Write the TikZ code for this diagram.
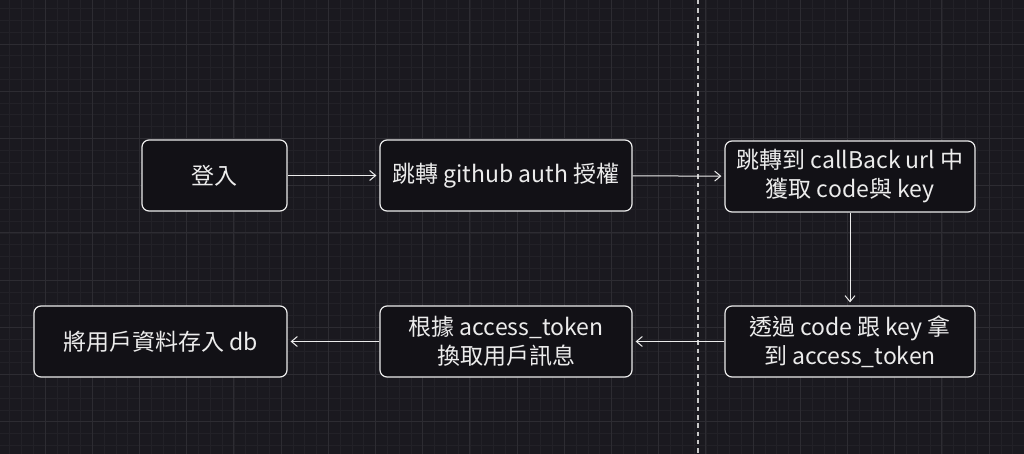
\documentclass[tikz,border=0pt]{standalone}
\usepackage{fontspec}
\setmainfont{Noto Sans CJK TC}
\usetikzlibrary{arrows.meta}

\definecolor{hgrund}{HTML}{1A191F}
\definecolor{kasten}{HTML}{121116}
\definecolor{rasterfein}{HTML}{222127}
\definecolor{rastergrob}{HTML}{2D2C32}
\definecolor{strich}{HTML}{ECECEC}
\definecolor{trennlinie}{HTML}{C8C8C8}

\tikzset{
  schritt/.style={draw=strich, fill=kasten, line width=1.2pt, rounded corners=7pt,
    minimum height=71pt, inner sep=0pt, align=center, text=strich,
    font=\fontsize{23}{29}\selectfont},
  pfeil/.style={-{Straight Barb[length=6pt,width=10pt]}, draw=strich, line width=1pt,
    shorten >=3pt}
}

\begin{document}
\begin{tikzpicture}[x=1pt, y=-1pt]

  % Hintergrund
  \fill[hgrund] (0,0) rectangle (1024,454);
  \useasboundingbox (0,0) rectangle (1024,454);

  % Raster
  \foreach \i in {0,...,86}
    \draw[rasterfein, line width=0.6pt] ({9.6+11.8*\i},0) -- ++(0,454);
  \foreach \j in {0,...,37}
    \draw[rasterfein, line width=0.6pt] (0,{8.6+11.8*\j}) -- ++(1024,0);
  \foreach \i in {0,...,21}
    \draw[rastergrob, line width=0.8pt] ({45+47.2*\i},0) -- ++(0,454);
  \foreach \j in {0,...,8}
    \draw[rastergrob, line width=0.8pt] (0,{44+47.2*\j}) -- ++(1024,0);

  % Trennlinie
  \coordinate (trennoben) at (698,0);
  \coordinate (trennunten) at (698,454);
  \draw[trennlinie, line width=1.6pt, dash pattern=on 4.5pt off 3.8pt] (trennoben) -- (trennunten);

  % Schritte
  \node[schritt, minimum width=145pt] (login) at (214.5,175.5) {登入};
  \node[schritt, minimum width=252pt] (github) at (506,175.5) {跳轉 github auth 授權};
  \node[schritt, minimum width=250pt] (callback) at (850,176.5) {跳轉到 callBack url 中\\獲取 code與 key};
  \node[schritt, minimum width=250pt] (code) at (850,341.5) {透過 code 跟 key 拿\\到 access\_token};
  \node[schritt, minimum width=252pt] (token) at (506,341.5) {根據 access\_token\\換取用戶訊息};
  \node[schritt, minimum width=253pt] (db) at (160.5,341.5) {將用戶資料存入 db};

  % Pfeile
  \draw[pfeil] (login) -- (github);
  \draw[pfeil] (github) -- (callback);
  \draw[pfeil] (callback) -- (code);
  \draw[pfeil] (code) -- (token);
  \draw[pfeil] (token) -- (db);
\end{tikzpicture}
\end{document}
